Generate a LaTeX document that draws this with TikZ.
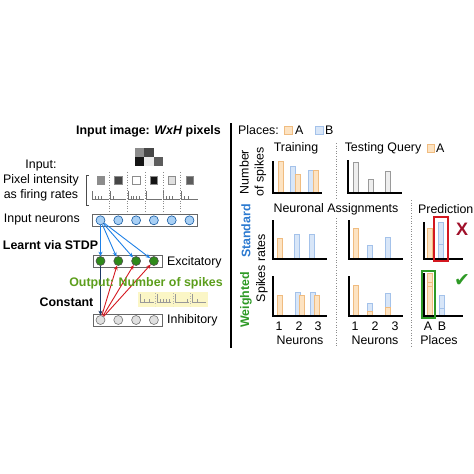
\documentclass[tikz,border=0pt]{standalone}
\usepackage{fontspec}
\setmainfont{Liberation Sans}
\newfontfamily\symfont{DejaVu Sans}
\usetikzlibrary{math,arrows.meta}

\definecolor{cA}{HTML}{FDE3C2}
\definecolor{eA}{HTML}{F0BC80}
\definecolor{cB}{HTML}{D8E6F8}
\definecolor{eB}{HTML}{A4C2EA}
\definecolor{cQ}{HTML}{EEEEEE}
\definecolor{eQ}{HTML}{9A9A9A}
\definecolor{cIn}{HTML}{A9D0F5}
\definecolor{excgreen}{HTML}{2F8A1A}
\definecolor{outgreen}{HTML}{5C9E1C}
\definecolor{stdblue}{HTML}{2C7AD0}
\definecolor{wgtgreen}{HTML}{2E9A26}
\definecolor{synblue}{HTML}{1E80E6}
\definecolor{inhred}{HTML}{D41820}
\definecolor{navy}{HTML}{1C3866}
\definecolor{wrongred}{HTML}{A0102A}
\definecolor{spkyellow}{HTML}{FBF6C6}

\tikzset{
  lbl/.style={inner sep=0pt, font=\fontsize{12.4}{15}\selectfont},
  bflbl/.style={inner sep=0pt, font=\fontsize{12.4}{15}\selectfont\bfseries},
  pixsq/.style={draw=black!45, minimum size=7.5pt, inner sep=0pt},
  layerbox/.style={draw=black!60, line width=0.6pt},
  neuron/.style={circle, minimum size=9pt, inner sep=0pt, line width=0.6pt},
  inputn/.style={neuron, draw=synblue!70!black, fill=cIn},
  excn/.style={neuron, draw=black!70, fill=excgreen},
  inhn/.style={neuron, draw=black!55, fill=black!12},
  spk/.style={draw=black!55, line width=0.5pt},
  colsep/.style={draw=black!45, dotted, line width=0.6pt},
  synapse/.style={draw=synblue, line width=0.9pt, -{Stealth[length=4.5pt,width=4pt]}},
  inhib/.style={draw=inhred, line width=0.9pt, -{Stealth[length=4.5pt,width=4pt]}},
  axisline/.style={draw=black, line width=1.3pt},
  placeA/.style={fill=cA, draw=eA, line width=0.6pt},
  placeB/.style={fill=cB, draw=eB, line width=0.6pt},
  query/.style={fill=cQ, draw=eQ, line width=0.6pt},
}

% one bar of a chart: style, left x, top y, base y
\newcommand{\spkbar}[4]{\filldraw[#1] (#2,#4) rectangle ({#2+5},#3);}

\begin{document}
\begin{tikzpicture}[x=1pt,y=-1pt]
  \useasboundingbox (0,0) rectangle (474,474);
  \tikzmath{
    % ----------------------------
    % the columns of the left net
    % ----------------------------
    \xa=100.5; % first column
    \gap=17.8; % distance between two columns
  }
  % --------------------------
  % input image and its pixels
  % --------------------------
  \node[bflbl] (title) at (148.5,131) {Input image: \textit{WxH} pixels};
  \foreach \c/\r/\g in {0/0/55,1/0/28,2/0/100,0/1/8,1/1/92,2/1/36}
    \fill[white!\g!black] ({135+\c*9.33},{148+\r*9}) rectangle ++(9.33,9);
  \node[lbl, align=center] (inlbl) at (41,181) {Input:\\Pixel intensity\\as firing rates};
  \draw[black!70, line width=0.6pt] (89,175) -- (86.5,175) -- (86.5,205) -- (89,205);
  \foreach \i/\g/\spks in {1/55/{3,6,9}, 2/28/{3}, 3/100/{3,5,8,11}, 4/8/{0}, 5/88/{3,6,9}, 6/36/{3,7}} {
    \pgfmathsetmacro\cx{\xa+(\i-1)*\gap}
    \node[pixsq, fill=white!\g!black] (sq\i) at (\cx,180) {};
    \draw[spk] ({\cx-8},191) -- ({\cx-8},199) -- ({\cx+8},199);
    \foreach \s in \spks
      \draw[spk] ({\cx-8+\s},199) -- ++(0,-3.5);
  }
  \foreach \i in {1,...,5}
    \draw[colsep] ({\xa+(\i-0.5)*\gap},172) -- ({\xa+(\i-0.5)*\gap},214);

  % -------------
  % neuron layers
  % -------------
  \node[lbl, anchor=east] (inneur) at (80,220) {Input neurons};
  \draw[layerbox] (92,214.5) rectangle (197,226);
  \foreach \i in {1,...,6}
    \node[inputn] (in\i) at ({\xa+(\i-1)*\gap},220.3) {};
  \draw[layerbox] (93,255) rectangle (162.5,267);
  \draw[layerbox] (93,314) rectangle (162.5,326);
  \foreach \i in {1,...,4} {
    \node[excn] (ex\i) at ({\xa+(\i-1)*\gap},261) {};
    \node[inhn] (ih\i) at ({\xa+(\i-1)*\gap},320) {};
  }
  \node[lbl, anchor=west] (exlbl) at (167,262) {Excitatory};
  \node[lbl, anchor=west] (ihlbl) at (167,320) {Inhibitory};
  \node[bflbl] (stdp) at (50.5,245) {Learnt via STDP};
  \node[bflbl] (const) at (66.5,302) {Constant};

  % output spike trains
  \fill[spkyellow] (138,292) rectangle (208,307);
  \foreach \i/\spks in {1/{4,9}, 2/{3,6,9,12}, 3/{12}, 4/{5}} {
    \pgfmathsetmacro\lx{138+(\i-1)*17.5}
    \draw[spk, draw=black!40] ({\lx+2},294) -- ({\lx+2},302) -- ({\lx+15.5},302);
    \foreach \s in \spks
      \draw[spk, draw=black!40] ({\lx+2+\s},302) -- ++(0,-3.5);
  }
  \foreach \i in {1,2,3}
    \draw[colsep, draw=black!30] ({138+\i*17.5},293) -- ({138+\i*17.5},306);

  % connections
  \foreach \i in {1,...,4}
    \draw[synapse] (in1) -- (ex\i);
  \draw[navy, line width=0.9pt, -{Stealth[length=4.5pt,width=4pt]}] (ex1) -- (ih1);
  \foreach \i in {2,3,4}
    \draw[inhib] (ih1) -- (ex\i);
  \node[bflbl, text=outgreen] (outlbl) at (146,283) {Output: Number of spikes};

  % divider
  \draw[black, line width=2pt] (231,123) -- (231,348);

  % -----------------
  % training / query
  % -----------------
  \node[lbl, anchor=west] (places) at (238,130) {Places:};
  \filldraw[placeA] (284,126.5) rectangle (292,134.5);
  \node[lbl, anchor=west] (legA) at (295,130) {A};
  \filldraw[placeB] (315,126.5) rectangle (323,134.5);
  \node[lbl, anchor=west] (legB) at (325,130) {B};
  \node[lbl] (train) at (296,148) {Training};
  \node[lbl] (testq) at (383,148) {Testing Query};
  \filldraw[placeA] (427,144) rectangle (434,152);
  \node[lbl, anchor=west] (testA) at (436,148) {A};
  \node[lbl, rotate=90, align=center] (nspk) at (253,172) {Number\\of spikes};

  \spkbar{placeA}{278}{161}{193}
  \spkbar{placeB}{290}{166}{193}
  \spkbar{placeA}{295}{174}{193}
  \spkbar{placeB}{308}{170}{193}
  \spkbar{placeA}{313}{170}{193}
  \draw[axisline] (273,161) -- (273,193) -- (322,193);
  \spkbar{query}{353}{162}{193}
  \spkbar{query}{368}{179}{193}
  \spkbar{query}{385}{171}{193}
  \draw[axisline] (348,160) -- (348,193) -- (402,193);

  \draw[colsep] (336,143) -- (336,199);
  \draw[colsep] (336,218) -- (336,346);
  \draw[colsep] (411,200) -- (411,346);

  % ---------------------------
  % assignments and predictions
  % ---------------------------
  \node[lbl] (assign) at (336,209) {Neuronal Assignments};
  \node[lbl, anchor=west] (pred) at (418,209) {Prediction};
  \node[bflbl, rotate=90, text=stdblue] (stdlbl) at (246,231) {Standard};
  \node[bflbl, rotate=90, text=wgtgreen] (wgtlbl) at (246,300) {Weighted};
  \node[lbl, rotate=90] (rates) at (262,268) {Spikes rates};

  % standard row
  \spkbar{placeA}{277}{238}{259}
  \spkbar{placeB}{294}{234}{259}
  \spkbar{placeB}{309}{234}{259}
  \draw[axisline] (273,220) -- (273,259) -- (327,259);
  \spkbar{placeA}{353}{228}{259}
  \spkbar{placeB}{367}{245}{259}
  \spkbar{placeB}{385}{237}{259}
  \draw[axisline] (349,220) -- (349,259) -- (403,259);
  \spkbar{placeA}{427}{228}{259}
  \spkbar{placeB}{438}{222}{259}
  \draw[eB, line width=0.6pt] (438,244) -- (443,244);
  \draw[axisline] (424,222) -- (424,259) -- (463,259);
  \draw[inhred, line width=1.3pt] (434,217) rectangle (448,261);
  \node[inner sep=0pt, text=wrongred, font=\fontsize{18}{18}\selectfont\bfseries] (wrong) at (462,229) {X};

  % weighted row
  \spkbar{placeA}{277}{295}{316}
  \spkbar{placeB}{295}{292}{316}
  \spkbar{placeA}{299}{295}{316}
  \spkbar{placeB}{310}{292}{316}
  \spkbar{placeA}{314}{295}{316}
  \draw[axisline] (273,276) -- (273,316) -- (327,316);
  \spkbar{placeA}{353}{285}{316}
  \spkbar{placeB}{367}{303}{316}
  \spkbar{placeA}{367}{311}{316}
  \spkbar{placeB}{385}{293}{316}
  \spkbar{placeA}{385}{307}{316}
  \draw[axisline] (349,276) -- (349,316) -- (403,316);
  \spkbar{placeA}{427}{273}{316}
  \draw[eA, line width=0.6pt] (427,282) -- (432,282) (427,286) -- (432,286);
  \spkbar{placeB}{439}{295}{316}
  \draw[eB, line width=0.6pt] (439,308) -- (444,308);
  \draw[axisline] (424,273) -- (424,316) -- (463,316);
  \draw[wgtgreen, line width=1.3pt] (422,271) rectangle (435,318);
  \node[inner sep=0pt, text=wgtgreen, font=\symfont\fontsize{19}{19}\selectfont] (right) at (462,281) {✔};

  % axis ticks and names
  \foreach \x/\t in {279/1, 299/2, 318/3, 355/1, 375/2, 395/3, 428/A, 442/B}
    \node[lbl] at (\x,326) {\t};
  \node[lbl] (neur1) at (300,340) {Neurons};
  \node[lbl] (neur2) at (375,340) {Neurons};
  \node[lbl] (plc) at (439,340) {Places};
\end{tikzpicture}
\end{document}
